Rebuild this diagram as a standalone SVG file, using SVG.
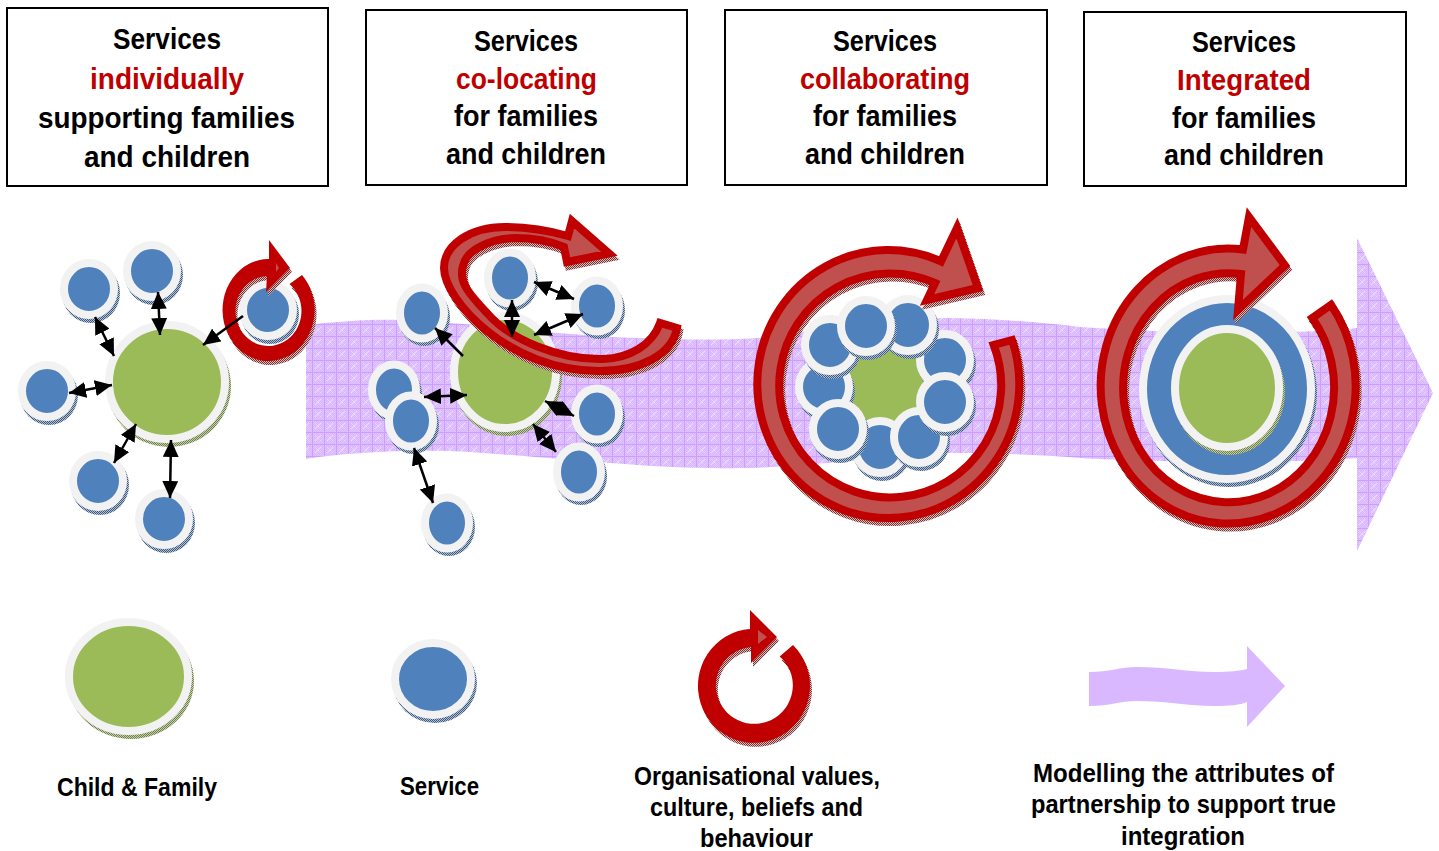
<svg xmlns="http://www.w3.org/2000/svg" width="1439" height="851" viewBox="0 0 1439 851">
<style>
text{font-family:"Liberation Sans",Arial,sans-serif;font-weight:bold;text-anchor:start;fill:#000}
.h{font-size:30px}
.l{font-size:26px}
.red{fill:#c00000}
.box{fill:#fff;stroke:#000;stroke-width:2}
.g{fill:#9bbb59;stroke:#f2f2f2;stroke-width:8}
.b{fill:#4f81bd;stroke:#f2f2f2;stroke-width:8}
.gs{fill:url(#dg)}
.bs{fill:url(#db)}
.r{fill:#c0504d;stroke:#c00000;stroke-width:8;stroke-miterlimit:12}
.rs{fill:url(#dr);stroke:url(#dr);stroke-width:8;stroke-miterlimit:12}
.rf{fill:#c00000}
.rfs{fill:url(#dr)}
.c{stroke:#000;stroke-width:2.500;fill:none}
.d{marker-start:url(#ah);marker-end:url(#ah)}
.s{marker-end:url(#ah)}
</style>
<defs>
<pattern id="dg" width="2" height="2" patternUnits="userSpaceOnUse"><rect width="1" height="1" fill="#6f7f50"/><rect x="1" y="1" width="1" height="1" fill="#6f7f50"/><rect x="1" width="1" height="1" fill="#c4cfa8"/><rect y="1" width="1" height="1" fill="#c4cfa8"/></pattern>
<pattern id="db" width="2" height="2" patternUnits="userSpaceOnUse"><rect width="1" height="1" fill="#3b5a82"/><rect x="1" y="1" width="1" height="1" fill="#3b5a82"/><rect x="1" width="1" height="1" fill="#b4c0d2"/><rect y="1" width="1" height="1" fill="#b4c0d2"/></pattern>
<pattern id="dr" width="2" height="2" patternUnits="userSpaceOnUse"><rect width="1" height="1" fill="#7a3030"/><rect x="1" y="1" width="1" height="1" fill="#7a3030"/><rect x="1" width="1" height="1" fill="#d8c0c0"/><rect y="1" width="1" height="1" fill="#d8c0c0"/></pattern>
<pattern id="dl" width="2" height="2" patternUnits="userSpaceOnUse"><rect width="2" height="2" fill="#d8b4ff"/><rect width="1" height="1" fill="#e2c8ff"/><rect x="1" y="1" width="1" height="1" fill="#e2c8ff"/></pattern>
<pattern id="lil" width="12" height="12" patternUnits="userSpaceOnUse">
<rect width="12" height="12" fill="url(#dl)"/>
<path d="M0 0.500H12M0.500 0V12" stroke="#cc9fff" stroke-width="1"/>
<path d="M3 3L9 9M9 3L3 9" stroke="#ead9ff" stroke-width="1"/>
</pattern>
<marker id="ah" viewBox="0 0 17 16" refX="17" refY="8" markerWidth="17" markerHeight="16" markerUnits="userSpaceOnUse" orient="auto-start-reverse"><path d="M0 0L17 8L0 16Z" fill="#000"/></marker>
<path id="p1" d="M269,259A46,51 0 1 0 302,275L289.500,284A33,35 0 1 1 267,276L266,292L290,268L269,240Z"/>
<path id="p2" d="M568,236C540,228 520,227 505,227C470,227 444,245 444,268C444,300 510,372 600,371C640,371 672,355 677,328L660,323C652,345 630,358 603,359C560,360 510,340 487,313C470,295 458,282 463,266C466,250 490,239 515,238C535,238 550,241 564,247L567,262L609,253.500L572,221Z"/>
<path id="p3" d="M941,261.400A131,134 0 1 0 1012,340L993.700,345A111,112 0 1 1 935,283L927,300L978,288L957,228Z"/>
<path id="p4" d="M1243,249.500A127.500,137.500 0 1 0 1331,304.800L1312.300,318A105.500,114.500 0 1 1 1241,274L1238,310L1285,265.500L1249,217Z"/>
<path id="p5" d="M750,629A56,57 0 1 0 793,645L779.700,656.400A38.500,38.500 0 1 1 751,647L751,663L777,637L750,610Z"/>
</defs>
<rect width="1439" height="851" fill="#fff"/>
<g id="flow-arrow"><path fill="url(#lil)" d="M306,325C340,321 375,319 400,320C470,322 560,336 640,338C690,340 720,340 760,338C820,330 880,318 950,318C1000,319 1040,322 1080,327C1150,332 1280,336 1357,328V238L1433,393L1357,551V458C1280,464 1150,462 1080,458C1040,455 1000,453 950,453C880,456 800,468 740,468C660,470 560,458 470,452C420,449 350,452 306,459Z"/></g>
<g id="box1"><rect class="box" x="7" y="8" width="321" height="178"/>
<text class="h" x="113" y="49" textLength="108" lengthAdjust="spacingAndGlyphs">Services</text>
<text class="h red" x="90" y="89" textLength="154" lengthAdjust="spacingAndGlyphs">individually</text>
<text class="h" x="38" y="128" textLength="257" lengthAdjust="spacingAndGlyphs">supporting families</text>
<text class="h" x="84" y="167" textLength="166" lengthAdjust="spacingAndGlyphs">and children</text></g>
<g id="box2"><rect class="box" x="366" y="10" width="321" height="175"/>
<text class="h" x="474" y="51" textLength="104" lengthAdjust="spacingAndGlyphs">Services</text>
<text class="h red" x="456" y="89" textLength="141" lengthAdjust="spacingAndGlyphs">co-locating</text>
<text class="h" x="454" y="126" textLength="144" lengthAdjust="spacingAndGlyphs">for families</text>
<text class="h" x="446" y="164" textLength="160" lengthAdjust="spacingAndGlyphs">and children</text></g>
<g id="box3"><rect class="box" x="725" y="10" width="322" height="175"/>
<text class="h" x="833" y="51" textLength="104" lengthAdjust="spacingAndGlyphs">Services</text>
<text class="h red" x="800" y="89" textLength="170" lengthAdjust="spacingAndGlyphs">collaborating</text>
<text class="h" x="813" y="126" textLength="144" lengthAdjust="spacingAndGlyphs">for families</text>
<text class="h" x="805" y="164" textLength="160" lengthAdjust="spacingAndGlyphs">and children</text></g>
<g id="box4"><rect class="box" x="1084" y="12" width="322" height="174"/>
<text class="h" x="1192" y="52" textLength="104" lengthAdjust="spacingAndGlyphs">Services</text>
<text class="h red" x="1177" y="90" textLength="134" lengthAdjust="spacingAndGlyphs">Integrated</text>
<text class="h" x="1172" y="128" textLength="144" lengthAdjust="spacingAndGlyphs">for families</text>
<text class="h" x="1164" y="165" textLength="160" lengthAdjust="spacingAndGlyphs">and children</text></g>

<g id="s1-family"><ellipse class="gs" cx="169" cy="386" rx="62" ry="61"/><ellipse class="g" cx="167" cy="382" rx="58" ry="57"/></g>
<g id="s1-a"><ellipse class="bs" cx="91" cy="293" rx="29" ry="30"/><ellipse class="b" cx="89" cy="289" rx="25" ry="26"/></g>
<g id="s1-b"><ellipse class="bs" cx="154" cy="275" rx="29" ry="30"/><ellipse class="b" cx="152" cy="271" rx="25" ry="26"/></g>
<g id="s1-c"><ellipse class="bs" cx="49" cy="395" rx="29" ry="30"/><ellipse class="b" cx="47" cy="391" rx="25" ry="26"/></g>
<g id="s1-d"><ellipse class="bs" cx="100" cy="485" rx="29" ry="30"/><ellipse class="b" cx="98" cy="481" rx="25" ry="26"/></g>
<g id="s1-e"><ellipse class="bs" cx="166" cy="523" rx="29" ry="30"/><ellipse class="b" cx="164" cy="519" rx="25" ry="26"/></g>
<g id="s1-f"><ellipse class="bs" cx="270" cy="314" rx="29" ry="30"/><ellipse class="b" cx="268" cy="310" rx="25" ry="26"/></g>
<g id="s1-ring"><use href="#p1" class="rfs" transform="translate(2,4)"/><use href="#p1" class="rf"/><path fill="#c0504d" d="M276,263L279,268L276,272Z"/></g>

<g id="s2-family"><ellipse class="gs" cx="507" cy="376" rx="55" ry="60"/><ellipse class="g" cx="505" cy="372" rx="51" ry="56"/></g>
<g id="s2-a"><ellipse class="bs" cx="512" cy="282" rx="26" ry="29"/><ellipse class="b" cx="510" cy="278" rx="22" ry="25.500"/></g>
<g id="s2-b"><ellipse class="bs" cx="599" cy="310" rx="26" ry="29"/><ellipse class="b" cx="597" cy="306" rx="22" ry="25.500"/></g>
<g id="s2-c"><ellipse class="bs" cx="424" cy="317" rx="26" ry="29"/><ellipse class="b" cx="422" cy="313" rx="22" ry="25.500"/></g>
<g id="s2-d"><ellipse class="bs" cx="396" cy="394" rx="26" ry="29"/><ellipse class="b" cx="394" cy="390" rx="22" ry="25.500"/></g>
<g id="s2-e"><ellipse class="bs" cx="413" cy="425" rx="26" ry="29"/><ellipse class="b" cx="411" cy="421" rx="22" ry="25.500"/></g>
<g id="s2-f"><ellipse class="bs" cx="599" cy="418" rx="26" ry="29"/><ellipse class="b" cx="597" cy="414" rx="22" ry="25.500"/></g>
<g id="s2-g"><ellipse class="bs" cx="581" cy="476" rx="26" ry="29"/><ellipse class="b" cx="579" cy="472" rx="22" ry="25.500"/></g>
<g id="s2-h"><ellipse class="bs" cx="449" cy="527" rx="26" ry="29"/><ellipse class="b" cx="447" cy="523" rx="22" ry="25.500"/></g>
<g id="s2-ring"><use href="#p2" class="rs" transform="translate(2,4)"/><use href="#p2" class="r"/></g>

<g id="s3-family"><ellipse class="gs" cx="886" cy="391" rx="54" ry="54"/><ellipse class="g" cx="884" cy="387" rx="50" ry="50"/></g>
<g id="s3-a"><ellipse class="bs" cx="826" cy="391" rx="29" ry="30"/><ellipse class="b" cx="824" cy="387" rx="25" ry="26"/></g>
<g id="s3-b"><ellipse class="bs" cx="882" cy="451" rx="29" ry="30"/><ellipse class="b" cx="880" cy="447" rx="25" ry="26"/></g>
<g id="s3-c"><ellipse class="bs" cx="947" cy="364" rx="29" ry="30"/><ellipse class="b" cx="945" cy="360" rx="25" ry="26"/></g>
<g id="s3-d"><ellipse class="bs" cx="910" cy="329" rx="29" ry="30"/><ellipse class="b" cx="908" cy="325" rx="25" ry="26"/></g>
<g id="s3-e"><ellipse class="bs" cx="832" cy="349" rx="29" ry="30"/><ellipse class="b" cx="830" cy="345" rx="25" ry="26"/></g>
<g id="s3-f"><ellipse class="bs" cx="868" cy="330" rx="29" ry="30"/><ellipse class="b" cx="866" cy="326" rx="25" ry="26"/></g>
<g id="s3-g"><ellipse class="bs" cx="840" cy="433" rx="29" ry="30"/><ellipse class="b" cx="838" cy="429" rx="25" ry="26"/></g>
<g id="s3-h"><ellipse class="bs" cx="921" cy="441" rx="29" ry="30"/><ellipse class="b" cx="919" cy="437" rx="25" ry="26"/></g>
<g id="s3-i"><ellipse class="bs" cx="947" cy="406" rx="29" ry="30"/><ellipse class="b" cx="945" cy="402" rx="25" ry="26"/></g>
<g id="s3-ring"><use href="#p3" class="rs" transform="translate(2,4)"/><use href="#p3" class="r"/></g>

<g id="s4-service"><ellipse class="bs" cx="1229" cy="393" rx="88" ry="94"/><ellipse class="b" cx="1227" cy="389" rx="84" ry="90"/></g>
<g id="s4-family"><ellipse class="gs" cx="1229" cy="392" rx="56" ry="63"/><ellipse class="g" cx="1227" cy="388" rx="52" ry="59"/></g>
<g id="s4-ring"><use href="#p4" class="rs" transform="translate(2,4)"/><use href="#p4" class="r"/></g>

<g id="legend-family"><ellipse class="gs" cx="131" cy="681" rx="63" ry="58"/><ellipse class="g" cx="128.500" cy="676.500" rx="59.500" ry="54.500"/>
<text class="l" x="57" y="796" textLength="160" lengthAdjust="spacingAndGlyphs">Child &amp; Family</text></g>
<g id="legend-service"><ellipse class="bs" cx="435" cy="683" rx="42" ry="40"/><ellipse class="b" cx="433" cy="679" rx="38" ry="36"/>
<text class="l" x="400" y="795" textLength="79" lengthAdjust="spacingAndGlyphs">Service</text></g>
<g id="legend-values"><use href="#p5" class="rfs" transform="translate(2,4)"/><use href="#p5" class="rf"/><path fill="#c0504d" d="M758,630L767,637L758,644Z"/>
<text class="l" x="634" y="785" textLength="246" lengthAdjust="spacingAndGlyphs">Organisational values,</text>
<text class="l" x="650" y="816" textLength="213" lengthAdjust="spacingAndGlyphs">culture, beliefs and</text>
<text class="l" x="700" y="847" textLength="113" lengthAdjust="spacingAndGlyphs">behaviour</text></g>
<g id="legend-partnership"><path fill="#d9b8ff" d="M1089,672C1110,672 1120,667 1137,667C1165,667 1190,672 1213,672C1230,672 1240,671 1247,669V646L1285,686L1247,727V702C1240,705 1230,706 1213,706C1190,706 1165,701 1137,701C1120,701 1110,706 1089,706Z"/>
<text class="l" x="1033" y="782" textLength="301" lengthAdjust="spacingAndGlyphs">Modelling the attributes of</text>
<text class="l" x="1031" y="813" textLength="305" lengthAdjust="spacingAndGlyphs">partnership to support true</text>
<text class="l" x="1121" y="845" textLength="124" lengthAdjust="spacingAndGlyphs">integration</text></g>

<g id="connectors">
<line class="c d" x1="158" y1="292" x2="160" y2="335"/>
<line class="c d" x1="95" y1="317" x2="114" y2="356"/>
<line class="c d" x1="69" y1="393" x2="112" y2="385"/>
<line class="c d" x1="136" y1="424" x2="114" y2="463"/>
<line class="c d" x1="171" y1="440" x2="170" y2="498"/>
<line class="c s" x1="243" y1="316" x2="203" y2="345"/>
<line class="c d" x1="512" y1="300" x2="512" y2="337"/>
<line class="c d" x1="534" y1="282" x2="574" y2="299"/>
<line class="c d" x1="534" y1="335" x2="583" y2="314"/>
<line class="c s" x1="463" y1="356" x2="435" y2="328"/>
<line class="c d" x1="424" y1="397" x2="467" y2="395"/>
<line class="c d" x1="545" y1="401" x2="574" y2="416"/>
<line class="c d" x1="533" y1="424" x2="556" y2="452"/>
<line class="c d" x1="414" y1="448" x2="433" y2="503"/>
</g>
</svg>
